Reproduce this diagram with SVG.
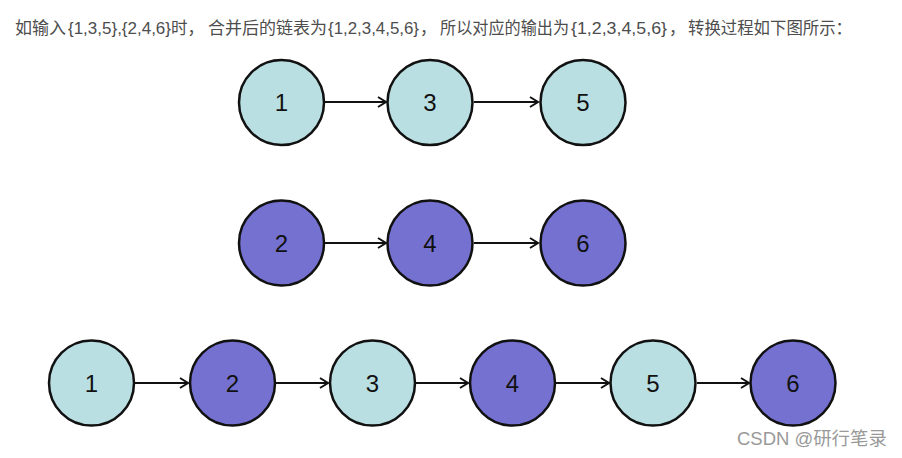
<svg xmlns="http://www.w3.org/2000/svg" width="902" height="458" viewBox="0 0 902 458">
<style>
.a{fill:#b9dfe2;stroke:#111;stroke-width:2.5}
.b{fill:#7571d0;stroke:#111;stroke-width:2.5}
.n{font-family:"Liberation Sans",Arial,sans-serif;font-size:24px;fill:#111;text-anchor:middle;dominant-baseline:central}
.c{stroke:#111;stroke-width:2.2;fill:none;marker-end:url(#ah)}
.t{font-family:"Liberation Sans","Noto Sans CJK SC",sans-serif;font-size:16.5px;fill:#4d4d4d}
.w{font-family:"Liberation Sans","Noto Sans CJK SC",sans-serif;font-size:18px;fill:#999}
</style>
<defs>
<marker id="ah" markerWidth="12" markerHeight="12" refX="10" refY="6" orient="auto" markerUnits="userSpaceOnUse">
<path d="M2,1 L10,6 L2,11" fill="none" stroke="#111" stroke-width="2"/>
</marker>
</defs>
<rect width="902" height="458" fill="#fff"/>
<g id="caption">
<text class="t" x="15" y="34" textLength="51" lengthAdjust="spacingAndGlyphs">如输入</text>
<text class="t" x="68" y="34" textLength="103" lengthAdjust="spacingAndGlyphs">{1,3,5},{2,4,6}</text>
<text class="t" x="171" y="34">时，</text>
<text class="t" x="208" y="34" textLength="119" lengthAdjust="spacingAndGlyphs">合并后的链表为</text>
<text class="t" x="328" y="34" textLength="91" lengthAdjust="spacingAndGlyphs">{1,2,3,4,5,6}</text>
<text class="t" x="420" y="34">，</text>
<text class="t" x="440" y="34" textLength="129" lengthAdjust="spacingAndGlyphs">所以对应的输出为</text>
<text class="t" x="571" y="34" textLength="96" lengthAdjust="spacingAndGlyphs">{1,2,3,4,5,6}</text>
<text class="t" x="669" y="34">，</text>
<text class="t" x="688" y="34" textLength="164" lengthAdjust="spacingAndGlyphs">转换过程如下图所示：</text>
</g>
<g id="connectors">
<line class="c" x1="325" y1="102" x2="386" y2="102"/>
<line class="c" x1="474" y1="102" x2="538" y2="102"/>
<line class="c" x1="325" y1="243" x2="386" y2="243"/>
<line class="c" x1="474" y1="243" x2="538" y2="243"/>
<line class="c" x1="135" y1="383" x2="188" y2="383"/>
<line class="c" x1="276" y1="383" x2="328" y2="383"/>
<line class="c" x1="416" y1="383" x2="468" y2="383"/>
<line class="c" x1="556" y1="383" x2="609" y2="383"/>
<line class="c" x1="697" y1="383" x2="749" y2="383"/>
</g>
<g id="r1n1"><circle class="a" cx="281.5" cy="102.5" r="42.5"/><text class="n" x="281.5" y="102.5">1</text></g>
<g id="r1n3"><circle class="a" cx="430" cy="102.5" r="42.5"/><text class="n" x="430" y="102.5">3</text></g>
<g id="r1n5"><circle class="a" cx="583" cy="102.5" r="42.5"/><text class="n" x="583" y="102.5">5</text></g>
<g id="r2n2"><circle class="b" cx="281.5" cy="243" r="42.5"/><text class="n" x="281.5" y="243">2</text></g>
<g id="r2n4"><circle class="b" cx="430" cy="243" r="42.5"/><text class="n" x="430" y="243">4</text></g>
<g id="r2n6"><circle class="b" cx="583" cy="243" r="42.5"/><text class="n" x="583" y="243">6</text></g>
<g id="r3n1"><circle class="a" cx="91.5" cy="383" r="42.5"/><text class="n" x="91.5" y="383">1</text></g>
<g id="r3n2"><circle class="b" cx="232.5" cy="383" r="42.5"/><text class="n" x="232.5" y="383">2</text></g>
<g id="r3n3"><circle class="a" cx="372.5" cy="383" r="42.5"/><text class="n" x="372.5" y="383">3</text></g>
<g id="r3n4"><circle class="b" cx="512.5" cy="383" r="42.5"/><text class="n" x="512.5" y="383">4</text></g>
<g id="r3n5"><circle class="a" cx="653" cy="383" r="42.5"/><text class="n" x="653" y="383">5</text></g>
<g id="r3n6"><circle class="b" cx="793" cy="383" r="42.5"/><text class="n" x="793" y="383">6</text></g>
<text class="w" x="737" y="445" textLength="150" lengthAdjust="spacingAndGlyphs">CSDN @研行笔录</text>
</svg>
